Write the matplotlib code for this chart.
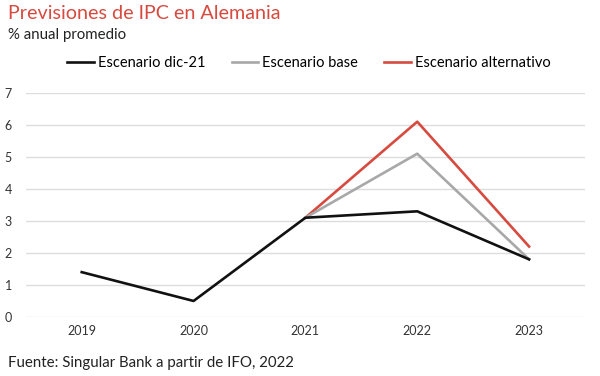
import numpy as np
import matplotlib.pyplot as plt

plt.rcParams['font.family'] = ['Lato', 'DejaVu Sans']

years = ['2019', '2020', '2021', '2022', '2023']
dic21 = [1.4, 0.5, 3.1, 3.3, 1.8]
base = [None, None, 3.1, 5.1, 1.8]
alternativo = [None, None, 3.1, 6.1, 2.2]

red = '#d64a3f'
gray = '#a8a8a8'

fig = plt.figure(figsize=(6, 3.76), dpi=100)
ax = fig.add_axes([0.043, 0.157, 0.932, 0.596])

x = np.arange(len(years))
b = np.array([np.nan if v is None else v for v in base], dtype=float)
a = np.array([np.nan if v is None else v for v in alternativo], dtype=float)

ax.plot(x, dic21, color='#111111', lw=1.9, label='Escenario dic-21', zorder=3)
ax.plot(x, b, color=gray, lw=1.9, label='Escenario base', zorder=2)
ax.plot(x, a, color=red, lw=1.9, label='Escenario alternativo', zorder=1)

ax.set_xlim(-0.5, len(years) - 0.5)
ax.set_ylim(0, 7)
ax.set_yticks(range(0, 8))
ax.set_xticks(x)
ax.set_xticklabels(years)
ax.grid(axis='y', color='#dddddd', lw=1)
ax.set_axisbelow(True)
for s in ax.spines.values():
    s.set_visible(False)
ax.tick_params(length=0, colors='#333333', labelsize=9)
ax.tick_params(axis='y', pad=10)
ax.tick_params(axis='x', pad=6)

fig.text(0.013, 0.963, 'Previsiones de IPC en Alemania', color=red, fontsize=14.2, va='center')
fig.text(0.013, 0.907, '% anual promedio', color='#222222', fontsize=10.8, va='center')
fig.text(0.013, 0.035, 'Fuente: Singular Bank a partir de IFO, 2022', color='#222222', fontsize=10.8, va='center')

fig.legend(loc='center', bbox_to_anchor=(0.515, 0.832), ncol=3, frameon=False,
           fontsize=10.5, handlelength=1.8, columnspacing=1.8, handletextpad=0.3)

fig.savefig('out.png', dpi=100)
